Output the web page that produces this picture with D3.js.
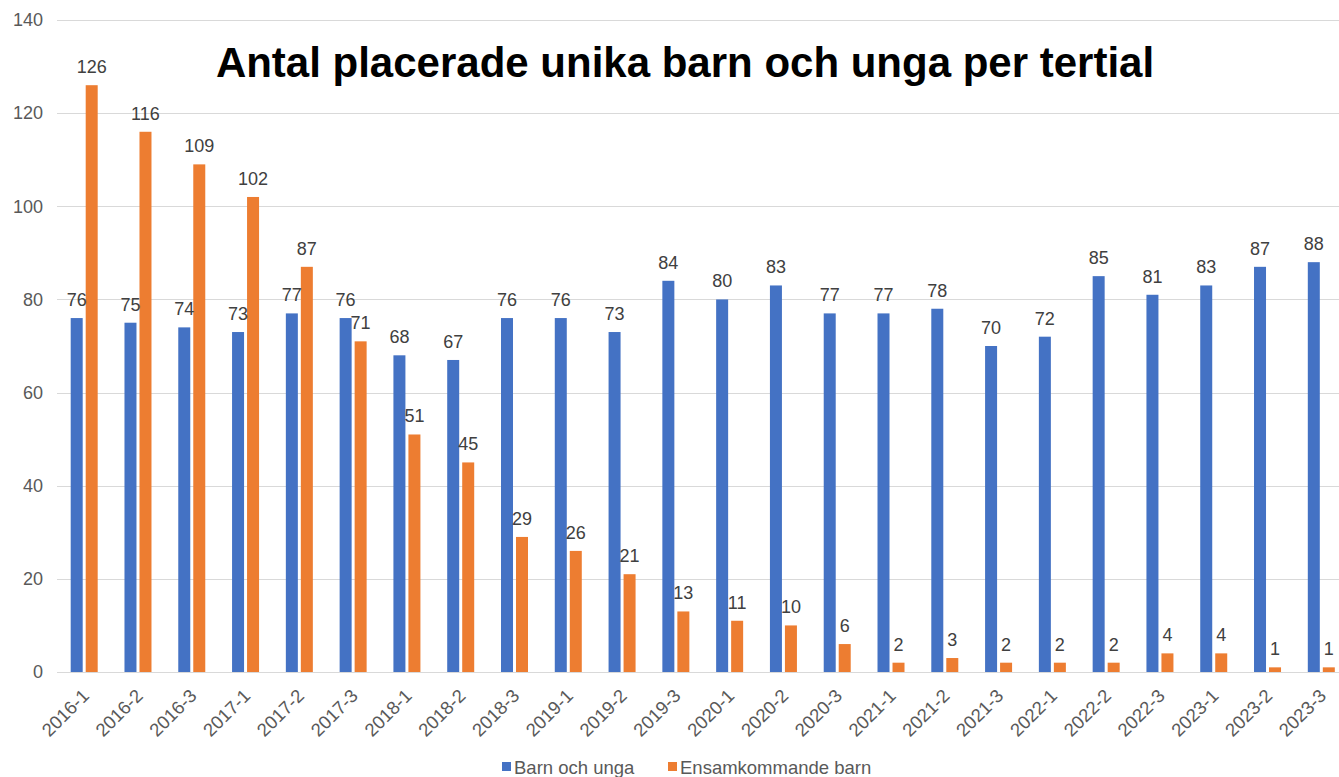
<!DOCTYPE html>
<html>
<head>
<meta charset="utf-8">
<script src="https://cdn.jsdelivr.net/npm/d3@7"></script>
<style>
  html, body { margin: 0; padding: 0; background: #fff; }
  svg { display: block; }
</style>
</head>
<body>
<svg id="chart" width="1339" height="777"></svg>
<script>
// Tertial periods
const categories = ["2016-1","2016-2","2016-3","2017-1","2017-2","2017-3","2018-1","2018-2","2018-3",
  "2019-1","2019-2","2019-3","2020-1","2020-2","2020-3","2021-1","2021-2","2021-3",
  "2022-1","2022-2","2022-3","2023-1","2023-2","2023-3"];
const seriesNames = ["Barn och unga", "Ensamkommande barn"];
const barnOchUnga = [76,75,74,73,77,76,68,67,76,76,73,84,80,83,77,77,78,70,72,85,81,83,87,88];
const ensamkommande = [126,116,109,102,87,71,51,45,29,26,21,13,11,10,6,2,3,2,2,2,4,4,1,1];
const yTicks = [0,20,40,60,80,100,120,140];
const titleText = "Antal placerade unika barn och unga per tertial";

const colors = ["#4472C4", "#ED7D31"];
const seriesValues = [barnOchUnga, ensamkommande];

const svg = d3.select("#chart");
const font = "'Liberation Sans', Arial, sans-serif";

const y = d3.scaleLinear().domain([0, 140]).range([672, 20]);
const x0 = d3.scaleBand().domain(categories).range([57.3, 1348.2]).paddingInner(0).paddingOuter(0);
const bw = x0.bandwidth();
const x1 = d3.scaleBand().domain(seriesNames).range([bw / 2 - 13.5, bw / 2 + 13.5]).paddingInner(0.2);

// Horizontal gridlines
svg.append("g").selectAll("line").data(yTicks).join("line")
  .attr("x1", 57).attr("x2", 1339)
  .attr("y1", d => Math.round(y(d)) + 0.5).attr("y2", d => Math.round(y(d)) + 0.5)
  .attr("stroke", "#d9d9d9").attr("stroke-width", 1);

// Y axis labels
const yAxis = d3.axisLeft(y).tickValues(yTicks).tickSize(0).tickPadding(0);
const gy = svg.append("g").attr("transform", "translate(43,0)").call(yAxis);
gy.select(".domain").remove();
gy.selectAll("text").attr("font-family", font).attr("font-size", 18).attr("fill", "#595959");

// Bars
const rows = categories.map((c, i) => ({ cat: c, vals: seriesNames.map((s, k) => ({ s, k, v: seriesValues[k][i] })) }));
const groups = svg.append("g").selectAll("g").data(rows).join("g")
  .attr("transform", d => `translate(${x0(d.cat)},0)`);

groups.selectAll("rect").data(d => d.vals).join("rect")
  .attr("x", d => x1(d.s)).attr("width", x1.bandwidth())
  .attr("y", d => y(d.v)).attr("height", d => y(0) - y(d.v))
  .attr("fill", d => colors[d.k]);

// Value labels
groups.selectAll("text").data(d => d.vals).join("text")
  .attr("x", d => x1(d.s) + x1.bandwidth() / 2)
  .attr("y", d => y(d.v) - 12)
  .attr("text-anchor", "middle")
  .attr("font-family", font).attr("font-size", 18).attr("fill", "#404040")
  .text(d => d.v);

// X axis category labels, rotated
const xAxis = d3.axisBottom(x0).tickSize(0).tickPadding(0);
const gx = svg.append("g").attr("transform", "translate(0,672)").call(xAxis);
gx.select(".domain").remove();
gx.selectAll("text")
  .attr("font-family", font).attr("font-size", 18.5).attr("fill", "#595959")
  .attr("text-anchor", "end")
  .attr("dy", null).attr("y", 0)
  .attr("transform", "translate(6,25) rotate(-45)");

// Title
svg.append("text")
  .attr("x", 685).attr("y", 77)
  .attr("text-anchor", "middle")
  .attr("font-family", font).attr("font-weight", "bold").attr("font-size", 42)
  .attr("fill", "#000")
  .text(titleText);

// Legend
const legendItems = [{ name: seriesNames[0], x: 502 }, { name: seriesNames[1], x: 668 }];
const lg = svg.append("g").selectAll("g").data(legendItems).join("g")
  .attr("transform", d => `translate(${d.x},0)`);
lg.append("rect").attr("x", 0).attr("y", 762).attr("width", 9).attr("height", 9)
  .attr("fill", (d, i) => colors[i]);
lg.append("text").attr("x", 12).attr("y", 774)
  .attr("font-family", font).attr("font-size", 18.5).attr("fill", "#595959")
  .text(d => d.name);
</script>
</body>
</html>
